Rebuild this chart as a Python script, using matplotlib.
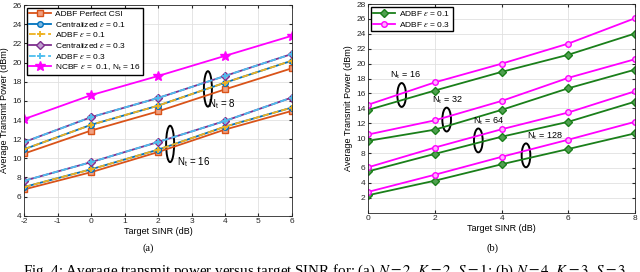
import matplotlib
matplotlib.use("Agg")
import matplotlib.pyplot as plt
from matplotlib.patches import Ellipse

plt.rcParams["font.family"] = ["Liberation Sans", "DejaVu Sans"]
plt.rcParams["mathtext.fontset"] = "stix"
plt.rcParams["axes.unicode_minus"] = False

# panel (a): target SINR vs transmit power, N=2, K=2, S=1
sinr_a = [-2, 0, 2, 4, 6]
ncbf_16 = [14.1, 16.6, 18.6, 20.7, 22.8]
perfect_8 = [10.5, 12.9, 14.9, 17.2, 19.4]
cent01_8 = [10.95, 13.5, 15.5, 17.9, 20.2]
adbf01_8 = [10.95, 13.5, 15.5, 17.9, 20.2]
cent03_8 = [11.7, 14.3, 16.3, 18.6, 20.9]
adbf03_8 = [11.7, 14.3, 16.3, 18.6, 20.9]
perfect_16 = [6.75, 8.55, 10.65, 13.0, 14.95]
cent01_16 = [7.0, 8.85, 10.9, 13.3, 15.3]
adbf01_16 = [7.0, 8.85, 10.9, 13.3, 15.3]
cent03_16 = [7.65, 9.6, 11.7, 13.9, 16.35]
adbf03_16 = [7.65, 9.6, 11.7, 13.9, 16.35]

# panel (b): N=4, K=3, S=3, one pair of curves per Nt
sinr_b = [0, 2, 4, 6, 8]
nt_b = [16, 32, 64, 128]
adbf01_b = [
    [13.8, 16.4, 18.9, 21.2, 24.05],
    [9.65, 11.15, 13.8, 16.7, 19.2],
    [5.55, 7.9, 10.2, 12.2, 14.9],
    [2.35, 4.3, 6.5, 8.55, 10.65],
]
adbf03_b = [
    [14.5, 17.5, 20.0, 22.7, 26.1],
    [10.5, 12.4, 15.0, 18.1, 20.6],
    [6.1, 8.75, 11.2, 13.45, 16.3],
    [2.8, 5.1, 7.5, 9.8, 12.2],
]

orange = "#D95319"
blue = "#0072BD"
yellow = "#EDB120"
purple = "#7E2F8E"
lblue = "#4DBEEE"
magenta = "#FF00FF"
green = "#1a7f1a"

fig = plt.figure(figsize=(6.4, 2.72), dpi=100)
ax1 = fig.add_axes([0.038, 0.207, 0.418, 0.774])
ax2 = fig.add_axes([0.5755, 0.218, 0.4167, 0.767])

lw = 1.3
ms = 4
mk = dict(markersize=ms, markeredgewidth=1.0)

ax1.plot(sinr_a, perfect_8, "-s", color=orange, mfc="#f0a080", lw=lw, label="ADBF Perfect CSI", **mk)
ax1.plot(sinr_a, cent01_8, "-o", color=blue, mfc="#80b8e0", lw=lw, label=r"Centralized $\epsilon$ = 0.1", **mk)
ax1.plot(sinr_a, adbf01_8, "--+", color=yellow, lw=lw, label=r"ADBF $\epsilon$ = 0.1", markersize=5, markeredgewidth=1.3)
ax1.plot(sinr_a, cent03_8, "-D", color=purple, mfc="#c0a0d0", lw=lw, label=r"Centralized $\epsilon$ = 0.3", markersize=3.6, markeredgewidth=1.0)
ax1.plot(sinr_a, adbf03_8, "--+", color=lblue, lw=lw, label=r"ADBF $\epsilon$ = 0.3", markersize=5, markeredgewidth=1.3)
ax1.plot(sinr_a, ncbf_16, "-*", color=magenta, lw=lw, label=r"NCBF $\epsilon$ =  0.1, N$_\mathregular{t}$ = 16", markersize=7)

ax1.plot(sinr_a, perfect_16, "-s", color=orange, mfc="#f0a080", lw=lw, **mk)
ax1.plot(sinr_a, cent01_16, "-o", color=blue, mfc="#80b8e0", lw=lw, **mk)
ax1.plot(sinr_a, adbf01_16, "--+", color=yellow, lw=lw, markersize=5, markeredgewidth=1.3)
ax1.plot(sinr_a, cent03_16, "-D", color=purple, mfc="#c0a0d0", lw=lw, markersize=3.6, markeredgewidth=1.0)
ax1.plot(sinr_a, adbf03_16, "--+", color=lblue, lw=lw, markersize=5, markeredgewidth=1.3)

ax1.add_patch(Ellipse((3.49, 17.25), 0.24, 3.7, fill=False, lw=1.4, color="black"))
ax1.text(3.5, 15.6, r"N$_\mathregular{t}$ = 8", fontsize=7, va="center")
ax1.add_patch(Ellipse((2.36, 11.5), 0.24, 3.8, fill=False, lw=1.4, color="black"))
ax1.text(2.56, 9.55, r"N$_\mathregular{t}$ = 16", fontsize=7, va="center")

ax1.set_xlim(-2, 6)
ax1.set_ylim(4, 26)
ax1.set_xticks(range(-2, 7))
ax1.set_yticks(range(4, 27, 2))
ax1.set_xlabel("Target SINR (dB)", fontsize=6.5, labelpad=1)
ax1.set_ylabel("Average Transmit Power (dBm)", fontsize=6.5, labelpad=2)
ax1.legend(loc="upper left", fontsize=6, frameon=True, fancybox=False, edgecolor="black",
           framealpha=1, borderaxespad=0.3, labelspacing=0.2, handlelength=2.6,
           handletextpad=0.5, borderpad=0.3)

for i, nt in enumerate(nt_b):
    ax2.plot(sinr_b, adbf01_b[i], "-D", color=green, mfc="#50a050", lw=lw,
             label=r"ADBF $\epsilon$ = 0.1" if i == 0 else None, markersize=3.6, markeredgewidth=1.0)
    ax2.plot(sinr_b, adbf03_b[i], "-o", color=magenta, mfc="#ffb0ff", lw=lw,
             label=r"ADBF $\epsilon$ = 0.3" if i == 0 else None, **mk)

ax2.add_patch(Ellipse((1.0, 15.8), 0.26, 3.2, fill=False, lw=1.4, color="black"))
ax2.text(0.65, 18.4, r"N$_\mathregular{t}$ = 16", fontsize=6.5, va="center")
ax2.add_patch(Ellipse((2.35, 12.5), 0.26, 3.2, fill=False, lw=1.4, color="black"))
ax2.text(1.9, 15.1, r"N$_\mathregular{t}$ = 32", fontsize=6.5, va="center")
ax2.add_patch(Ellipse((3.3, 9.7), 0.26, 3.2, fill=False, lw=1.4, color="black"))
ax2.text(3.15, 12.2, r"N$_\mathregular{t}$ = 64", fontsize=6.5, va="center")
ax2.add_patch(Ellipse((4.73, 7.7), 0.26, 3.2, fill=False, lw=1.4, color="black"))
ax2.text(4.75, 10.3, r"N$_\mathregular{t}$ = 128", fontsize=6.5, va="center")

ax2.set_xlim(0, 8)
ax2.set_ylim(0, 28)
ax2.set_xticks(range(0, 9, 2))
ax2.set_yticks(range(2, 29, 2))
ax2.set_xlabel("Target SINR (dB)", fontsize=6.5, labelpad=1)
ax2.set_ylabel("Average Transmit Power (dBm)", fontsize=6.5, labelpad=2)
ax2.legend(loc="upper left", fontsize=6, frameon=True, fancybox=False, edgecolor="black",
           framealpha=1, borderaxespad=0.3, labelspacing=0.2, handlelength=2.6,
           handletextpad=0.5, borderpad=0.3)

for ax in (ax1, ax2):
    ax.grid(True, color="#e0e0e0", lw=0.6)
    ax.set_axisbelow(True)
    ax.tick_params(direction="in", length=2.5, labelsize=6, top=True, right=True, pad=2,
                   colors="#262626")
    for sp in ax.spines.values():
        sp.set_color("#262626")
        sp.set_linewidth(0.6)

serif = ["Liberation Serif", "DejaVu Serif"]
fig.text(0.2315, 1 - 248 / 272, "(a)", family=serif, fontsize=7.5, ha="center", va="center")
fig.text(0.769, 1 - 248 / 272, "(b)", family=serif, fontsize=7.5, ha="center", va="center")
fig.text(0.036, 1 - 263 / 272,
         "Fig. 4: Average transmit power versus target SINR for: (a) $N = 2$, $K = 2$, $S = 1$; "
         "(b) $N = 4$, $K = 3$, $S = 3$.",
         family=serif, fontsize=10.8, ha="left", va="top")

fig.savefig("out.png", dpi=100)
